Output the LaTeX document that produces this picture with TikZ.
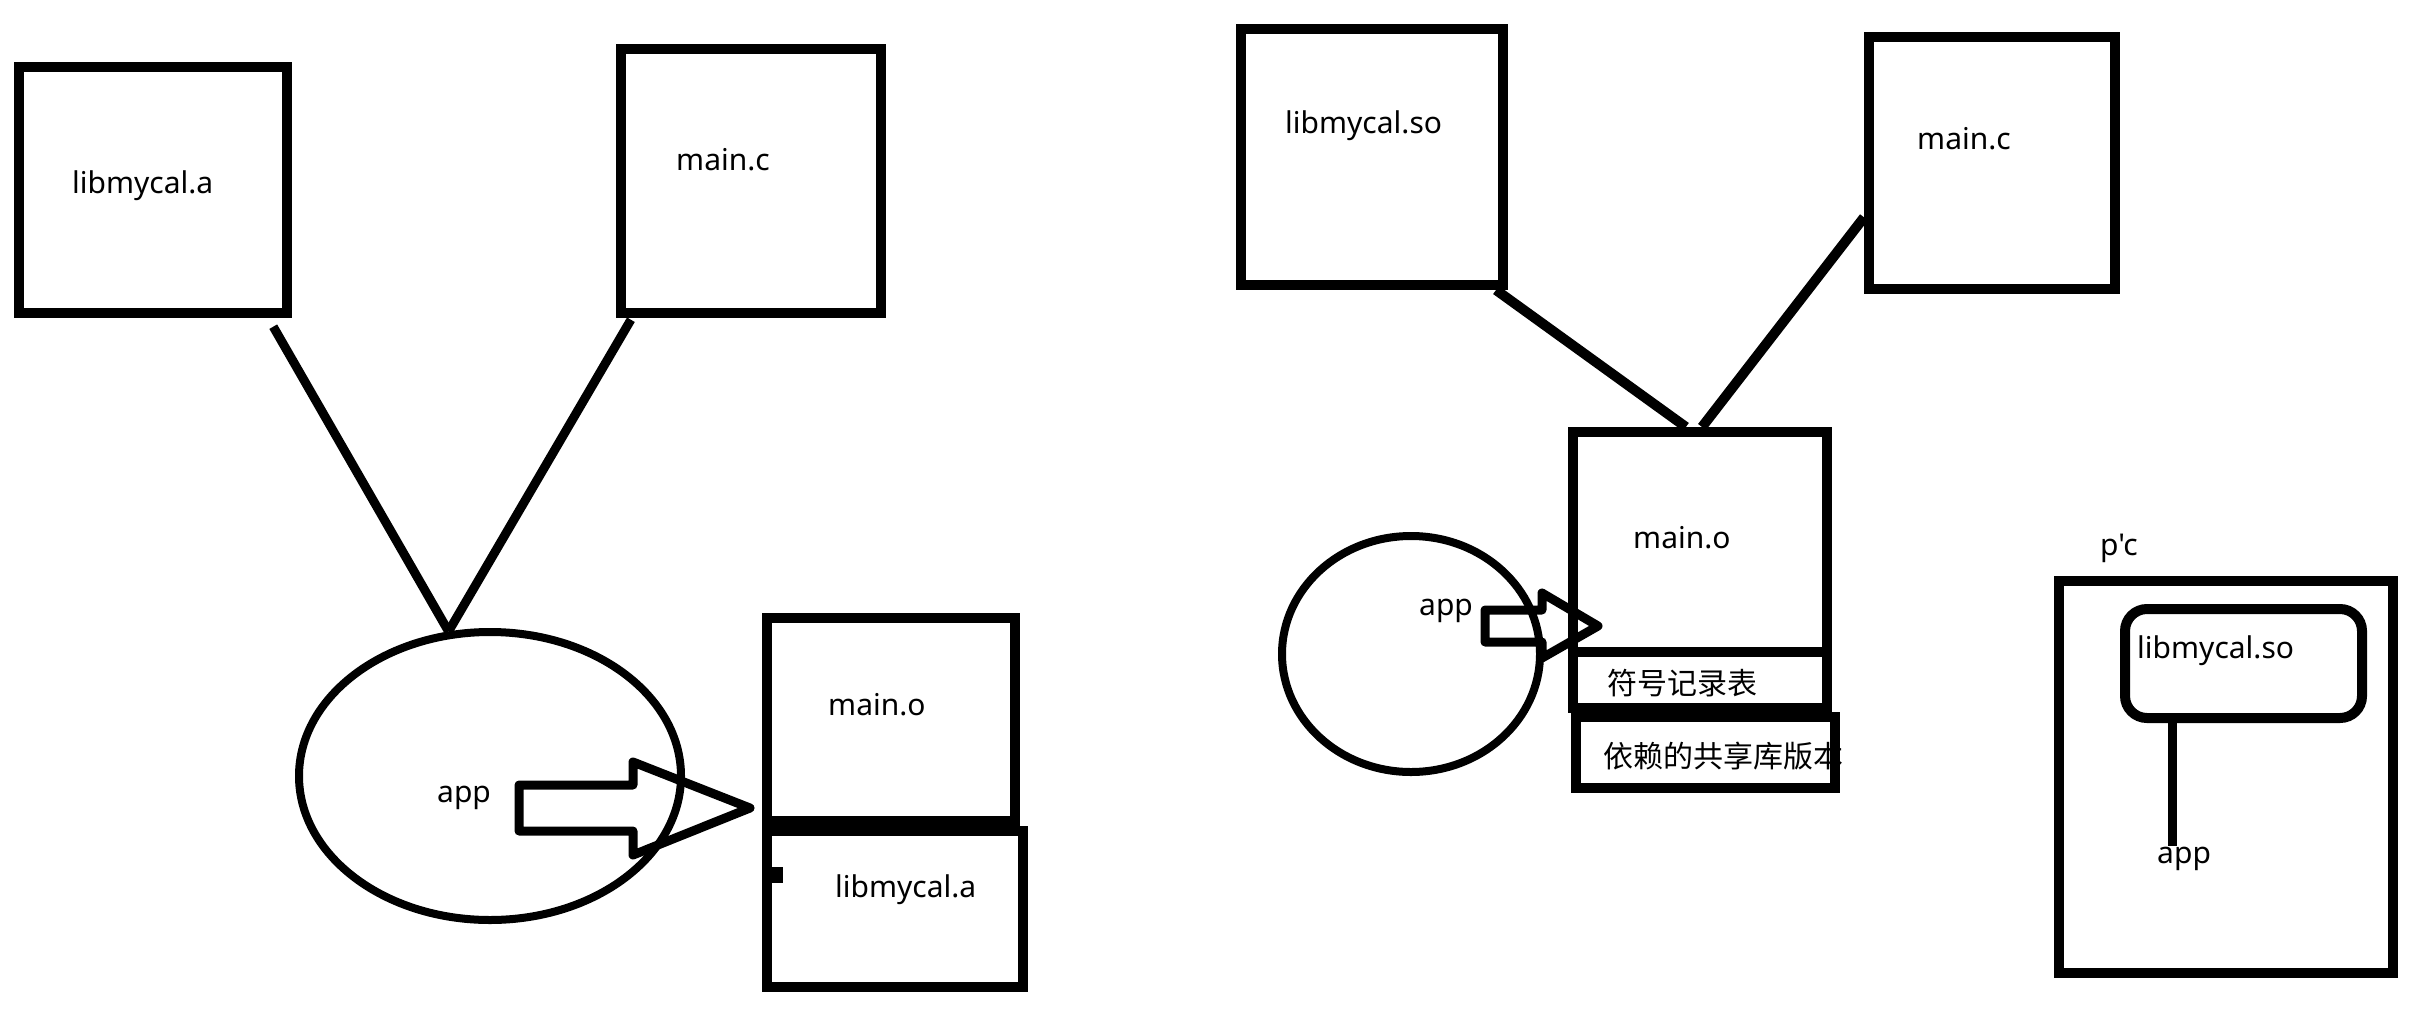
\documentclass[tikz,border=0pt]{standalone}
\usepackage{fontspec}
\setmainfont{Noto Sans}
\newfontfamily\rawsans{Noto Sans}[Ligatures=TeXOff]
\newfontfamily\cjk{Noto Sans CJK SC}
\usetikzlibrary{positioning,
                shapes.geometric
            }

\begin{document}
\begin{tikzpicture}[x=1pt, y=-1pt,
        box/.style={draw, line width=10pt, inner sep=0pt},
        blob/.style={draw, ellipse, line width=8pt, inner sep=0pt},
        txt/.style={anchor=base west, inner sep=0pt, font=\fontsize{30pt}{36pt}\selectfont},
        link/.style={draw, line width=9pt},
        fatarrow/.style={draw, line width=9pt, line join=round}]
            \useasboundingbox (0,0) rectangle (2420,1010);
            % static library
            \node[box, minimum width=268pt, minimum height=246pt] (libA) at (153, 190) {};
            \node[txt] (libAtxt) at (72, 193) {libmycal.a};
            \node[box, minimum width=260pt, minimum height=264pt] (mainCL) at (751, 181) {};
            \node[txt] (mainCLtxt) at (676, 170) {main.c};
            \node[blob, minimum width=382pt, minimum height=288pt] (appL) at (490, 776) {};
            \node[txt] (appLtxt) at (437, 802) {app};
            \node[box, minimum width=248pt, minimum height=203pt] (mainOL) at (891, 719.5) {};
            \node[txt] (mainOLtxt) at (828, 715) {main.o};
            \node[box, minimum width=256pt, minimum height=156pt] (libAL) at (895, 909) {};
            \node[txt] (libALtxt) at (835, 897) {libmycal.a};
            \fill (772, 867) rectangle (783, 883);
            \draw[link, shorten <=10pt] (libA.-48) -- (appL.106);
            \draw[link, shorten <=2pt] (mainCL.-131) -- (appL.106);
            \draw[fatarrow] (519, 785) -- (633, 785) -- (633, 762) -- (750, 808)
                -- (633, 855) -- (633, 831) -- (519, 831) -- cycle;
            % shared library
            \node[box, minimum width=262pt, minimum height=256pt] (libSO) at (1372, 157) {};
            \node[txt] (libSOtxt) at (1285, 133) {libmycal.so};
            \node[box, minimum width=246pt, minimum height=252pt] (mainCR) at (1992, 163) {};
            \node[txt] (mainCRtxt) at (1917, 149) {main.c};
            \node[box, minimum width=254pt, minimum height=220pt] (mainOR) at (1700, 542) {};
            \node[txt] (mainORtxt) at (1633, 548) {main.o};
            \node[box, minimum width=254pt, minimum height=56pt] (symtab) at (1700, 680) {};
            \node[txt] (symtabtxt) at (1607, 694) {\cjk 符号记录表};
            \node[txt] (deplibtxt) at (1603, 767) {\cjk 依赖的共享库版本};
            \node[box, minimum width=259pt, minimum height=71pt] (deplib) at (1705.5, 752.5) {};
            \node[blob, minimum width=258pt, minimum height=236pt] (appM) at (1411, 654) {};
            \node[txt] (appMtxt) at (1419, 615) {app};
            \draw[fatarrow] (1485, 610) -- (1542, 610) -- (1542, 593) -- (1598, 626)
                -- (1542, 658) -- (1542, 642) -- (1485, 642) -- cycle;
            \draw[link, line width=10pt] (libSO.-47) -- (mainOR.97);
            \draw[link, line width=10pt] (mainCR.203) -- (mainOR.89);
            % p'c
            \node[box, minimum width=334pt, minimum height=392pt] (pc) at (2226, 777) {};
            \node[txt] (pctxt) at (2100, 555) {\rawsans p'c};
            \node[box, rounded corners=22pt, minimum width=237pt, minimum height=109pt] (soR) at (2243.5, 663.5) {};
            \node[txt] (soRtxt) at (2137, 658) {libmycal.so};
            \node[txt] (appR) at (2157, 863) {app};
            \draw[link] (soR.-140) -- (soR.-140 |- appR.north);
        \end{tikzpicture}
\end{document}
